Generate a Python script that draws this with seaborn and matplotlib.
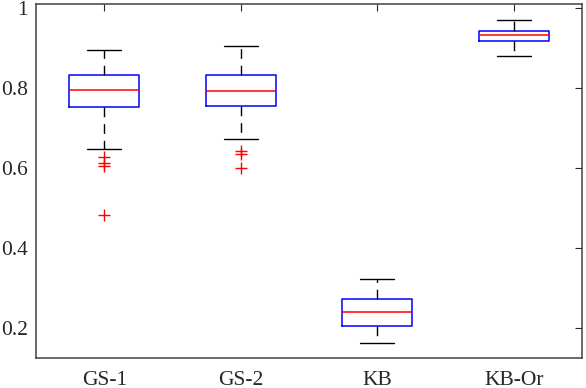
"""
Box plot of the four methods, MATLAB look
"""
import matplotlib
matplotlib.use('Agg')
import matplotlib.pyplot as plt
import seaborn as sns

sns.set_theme(style='white')
plt.rcParams['font.family'] = ['Liberation Serif', 'DejaVu Serif']

# summary values
methods = ['GS-1', 'GS-2', 'KB', 'KB-Or']
whisker_low = [0.648, 0.672, 0.163, 0.880]
q1 = [0.7525, 0.755, 0.205, 0.9165]
median = [0.795, 0.7925, 0.240, 0.932]
q3 = [0.8325, 0.8325, 0.2725, 0.943]
whisker_high = [0.895, 0.905, 0.323, 0.970]
outliers = [
    [0.628, 0.612, 0.605, 0.482],
    [0.642, 0.636, 0.599],
    [],
    [],
]

stats = []
for i, name in enumerate(methods):
    stats.append({
        'label': name,
        'whislo': whisker_low[i],
        'q1': q1[i],
        'med': median[i],
        'q3': q3[i],
        'whishi': whisker_high[i],
        'fliers': outliers[i],
    })

fig = plt.figure(figsize=(5.86, 3.88), dpi=100)
ax = fig.add_axes([0.0614, 0.0773, 0.9318, 0.9124])

ax.bxp(
    stats,
    positions=range(1, len(methods) + 1),
    widths=0.51,
    showfliers=True,
    boxprops=dict(color='#0000ff', linewidth=1.1),
    medianprops=dict(color='#ff0000', linewidth=1.1),
    whiskerprops=dict(color='black', linewidth=1.0, linestyle=(0, (7, 5))),
    capprops=dict(color='black', linewidth=1.0),
    flierprops=dict(marker='+', markeredgecolor='#ff0000', markersize=8,
                    markeredgewidth=1.0, linestyle='none'),
    capwidths=0.25,
)

ax.set_xlim(0.5, 4.5)
ax.set_ylim(0.125, 1.01)
ax.set_yticks([0.2, 0.4, 0.6, 0.8, 1.0])
ax.set_yticklabels(['0.2', '0.4', '0.6', '0.8', '1'])
ax.set_xticks(range(1, len(methods) + 1))
ax.set_xticklabels(methods)

for s in ax.spines.values():
    s.set_color('#404040')
    s.set_linewidth(1.1)
ax.tick_params(direction='in', length=5, width=0.8, colors='#262626',
               labelsize=15.5, top=True, right=True, labelcolor='#262626')
ax.tick_params(axis='x', pad=9)
ax.tick_params(axis='y', pad=6)

plt.savefig('out.png', dpi=100, facecolor='white')
